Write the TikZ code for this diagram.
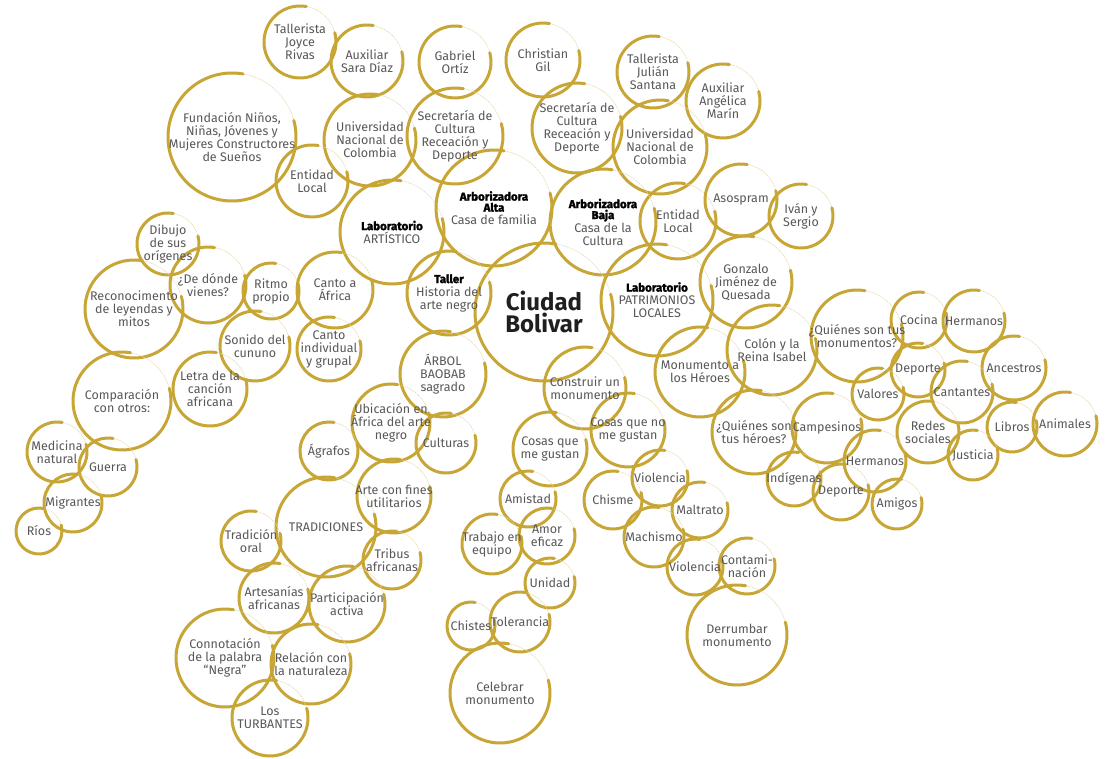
\documentclass[tikz,border=0pt]{standalone}
\usepackage{fontspec}
\setmainfont{Fira Sans}
\newfontfamily\grueso{Fira Sans}[BoldFeatures={FakeBold=2}]
\usetikzlibrary{positioning}
\definecolor{oro}{RGB}{199,166,54}
\definecolor{tinta}{RGB}{88,88,88}
\pgfdeclarelayer{front}
\pgfsetlayers{main,front}
\newcommand{\titl}[1]{{\fontsize{11.5}{12}\grueso\bfseries\color{black}#1}}
% burbuja: nombre, x, y, radio, texto
\newcommand{\burbuja}[6][]{%
  \draw[trazo tenue] (#3,-#4) circle (#5);
  \draw[trazo] (#3,-#4) ++(80:#5) arc (80:375:#5);
  \begin{pgfonlayer}{front}
    \node[texto,#1] (#2) at (#3,-#4) {#6};
  \end{pgfonlayer}
}

\begin{document}
\begin{tikzpicture}[x=1pt,y=1pt,
    trazo/.style={draw=oro,line width=3pt,line cap=round},
    trazo tenue/.style={draw=oro!45,line width=0.6pt,dash pattern=on 1.2pt off 0.8pt},
    texto/.style={align=center,inner sep=0pt,text=tinta,font=\fontsize{12.5}{13}\selectfont}]
  \useasboundingbox[fill=white] (0,0) rectangle (1114,-758);

  % arriba
  \burbuja{tjr}{300}{42}{36}{Tallerista\\Joyce\\Rivas}
  \burbuja{asd}{367}{61}{36}{Auxiliar\\Sara Díaz}
  \burbuja{gor}{455}{62}{36}{Gabriel\\Ortíz}
  \burbuja{cgil}{543}{60}{37}{Christian\\Gil}
  \burbuja{tjs}{653}{72}{36}{Tallerista\\Julián\\Santana}
  \burbuja{aam}{723}{101}{37}{Auxiliar\\Angélica\\Marín}
  \burbuja{fund}{232}{137}{64}{Fundación Niños,\\Niñas, Jóvenes y\\Mujeres Constructores\\de Sueños}
  \burbuja{unal}{370}{140}{46}{Universidad\\Nacional de\\Colombia}
  \burbuja{secl}{455}{136}{48}{Secretaría de\\Cultura\\Receación y\\Deporte}
  \burbuja{secr}{577}{128}{45}{Secretaría de\\Cultura\\Receación y\\Deporte}
  \burbuja{unar}{660}{147}{47}{Universidad\\Nacional de\\Colombia}
  \burbuja{entl}{312}{181}{36}{Entidad\\Local}
  \burbuja{entr}{678}{221}{38}{Entidad\\Local}
  \burbuja{aso}{741}{200}{36}{Asospram}
  \burbuja{ivs}{801}{216}{32}{Iván y\\Sergio}

  % centro
  \burbuja{labart}{392}{232}{52}{\titl{Laboratorio}\\ARTÍSTICO}
  \burbuja{arbalta}{494}{208}{58}{\titl{Arborizadora}\\[-2pt]\titl{Alta}\\Casa de familia}
  \burbuja{arbbaja}{603}{222}{53}{\titl{Arborizadora}\\[-2pt]\titl{Baja}\\Casa de la\\Cultura}
  \burbuja[font=\fontsize{24}{22}\bfseries\selectfont,text=black!88]{cb}{544}{312}{69}{Ciudad\\Bolivar}
  \burbuja{taller}{449}{293}{42}{\titl{Taller}\\Historia del\\arte negro}
  \burbuja{labpat}{657}{300}{56}{\titl{Laboratorio}\\PATRIMONIOS\\LOCALES}
  \burbuja{baobab}{443}{374}{43}{ÁRBOL\\BAOBAB\\sagrado}

  % derecha
  \burbuja{gjq}{746}{282}{46}{Gonzalo\\Jiménez de\\Quesada}
  \burbuja{monh}{700}{372}{45}{Monumento a\\los Héroes}
  \burbuja{colon}{772}{350}{45}{Colón y la\\Reina Isabel}
  \burbuja{qmon}{857}{336}{46}{¿Quiénes son tus\\monumentos?}
  \burbuja{cocina}{919}{320}{28}{Cocina}
  \burbuja{herm1}{974}{321}{31}{Hermanos}
  \burbuja{ances}{1014}{368}{32}{Ancestros}
  \burbuja{dep1}{918}{370}{27}{Deporte}
  \burbuja{valores}{878}{394}{26}{Valores}
  \burbuja{cant}{962}{392}{31}{Cantantes}
  \burbuja{redes}{928}{432}{31}{Redes\\sociales}
  \burbuja{libros}{1012}{427}{25}{Libros}
  \burbuja{anim}{1065}{424}{32}{Animales}
  \burbuja{just}{973}{455}{25}{Justicia}
  \burbuja{qher}{754}{432}{42}{¿Quiénes son\\tus héroes?}
  \burbuja{camp}{827}{428}{35}{Campesinos}
  \burbuja{herm2}{875}{461}{31}{Hermanos}
  \burbuja{indig}{794}{479}{27}{Indígenas}
  \burbuja{dep2}{841}{492}{28}{Deporte}
  \burbuja{amigos}{897}{504}{25}{Amigos}

  % izquierda
  \burbuja{dibujo}{168}{244}{31}{Dibujo\\de sus\\orígenes}
  \burbuja{recon}{134}{309}{49}{Reconocimento\\de leyendas y\\mitos}
  \burbuja{dedonde}{208}{285}{38}{¿De dónde\\vienes?}
  \burbuja{ritmo}{271}{291}{28}{Ritmo\\propio}
  \burbuja{cantoaf}{335}{290}{38}{Canto a\\África}
  \burbuja{sonido}{255}{346}{35}{Sonido del\\cununo}
  \burbuja{cantoind}{329}{349}{32}{Canto\\individual\\y grupal}
  \burbuja{compar}{122}{401}{49}{Comparación\\con otros:}
  \burbuja{letra}{210}{389}{37}{Letra de la\\canción\\africana}
  \burbuja{medic}{57}{452}{30}{Medicina\\natural}
  \burbuja{guerra}{108}{467}{29}{Guerra}
  \burbuja{migr}{73}{503}{29}{Migrantes}
  \burbuja{rios}{39}{531}{23}{Ríos}

  % tradiciones
  \burbuja{ubic}{391}{423}{39}{Ubicación en\\África del arte\\negro}
  \burbuja{cult}{446}{443}{30}{Culturas}
  \burbuja{agraf}{329}{451}{29}{Ágrafos}
  \burbuja{artef}{394}{496}{37}{Arte con fines\\utilitarios}
  \burbuja{trad}{326}{527}{50}{TRADICIONES}
  \burbuja{tradoral}{251}{541}{30}{Tradición\\oral}
  \burbuja{tribus}{392}{560}{29}{Tribus\\africanas}
  \burbuja{artes}{274}{598}{35}{Artesanías\\africanas}
  \burbuja{partic}{347}{604}{38}{Participación\\activa}
  \burbuja{connot}{225}{658}{49}{Connotación\\de la palabra\\“Negra”}
  \burbuja{relac}{311}{664}{40}{Relación con\\la naturaleza}
  \burbuja{turb}{270}{718}{38}{Los\\TURBANTES}

  % monumentos
  \burbuja{constr}{585}{388}{41}{Construir un\\monumento}
  \burbuja{nogust}{628}{430}{37}{Cosas que no\\me gustan}
  \burbuja{gust}{550}{449}{37}{Cosas que\\me gustan}
  \burbuja{amistad}{528}{499}{28}{Amistad}
  \burbuja{chisme}{613}{500}{29}{Chisme}
  \burbuja{viol1}{660}{478}{28}{Violencia}
  \burbuja{maltr}{700}{510}{28}{Maltrato}
  \burbuja{machis}{654}{537}{30}{Machismo}
  \burbuja{trabajo}{492}{544}{30}{Trabajo en\\equipo}
  \burbuja{amor}{547}{536}{28}{Amor\\eficaz}
  \burbuja{unidad}{550}{583}{25}{Unidad}
  \burbuja{viol2}{695}{567}{28}{Violencia}
  \burbuja{contam}{747}{566}{28}{Contami-\\nación}
  \burbuja{chistes}{471}{626}{24}{Chistes}
  \burbuja{toler}{520}{622}{30}{Tolerancia}
  \burbuja{celeb}{500}{693}{50}{Celebrar\\monumento}
  \burbuja{derr}{737}{635}{50}{Derrumbar\\monumento}
\end{tikzpicture}
\end{document}
